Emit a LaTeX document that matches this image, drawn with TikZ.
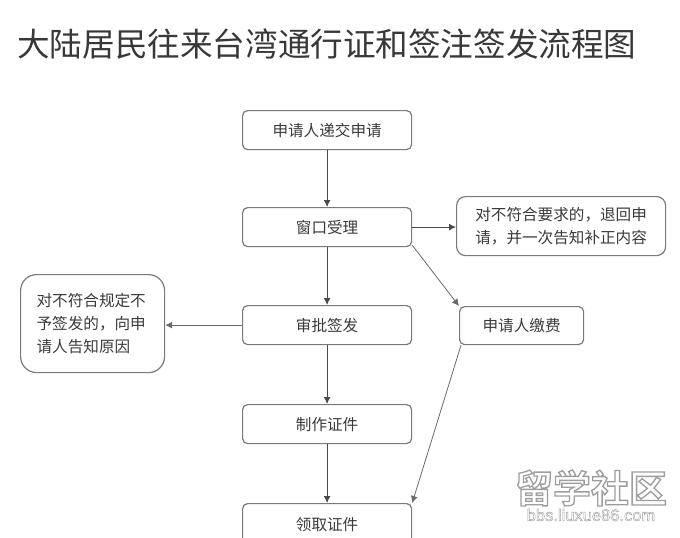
\documentclass[tikz,border=0pt]{standalone}
\usepackage{fontspec}
\setmainfont{Noto Sans CJK SC}
\font\wmcjk="Noto Sans CJK SC Bold:embolden=3.5" at 38pt
\font\wmlat="Liberation Sans:embolden=2.5" at 16.5pt
\usetikzlibrary{arrows.meta}
\definecolor{edgec}{HTML}{7A7A7A}
\definecolor{textc}{HTML}{3A3A3A}
\definecolor{linec}{HTML}{4A4A4A}
\definecolor{thinc}{HTML}{6A6A6A}
\newcommand{\wmstroke}{\special{pdf:code 0.62 0.62 0.62 RG}}
\tikzset{
  x=1pt,y=-1pt,
  boxbase/.style={draw=edgec,line width=1.2pt,fill=white,text=textc,inner sep=0pt,anchor=north west,align=center,font=\fontsize{15.6}{23}\selectfont},
  flow/.style={boxbase,rounded corners=5pt},
  note/.style={boxbase,rounded corners=9pt},
  bignote/.style={boxbase,rounded corners=16pt,align=left},
  conn/.style={draw=linec,line width=1pt,-{Latex[length=7pt,width=7pt]}},
  thin conn/.style={draw=thinc,line width=.8pt,-{Latex[length=7pt,width=7pt]}},
  wmtext/.style={text=white,inner sep=0pt}
}
\begin{document}
\begin{tikzpicture}
\useasboundingbox (0,0) rectangle (680,538);
\clip (0,0) rectangle (680,538);
\fill[white] (0,0) rectangle (680,538);
\node[text=black!78,inner sep=0pt,anchor=west,font=\fontsize{32.6}{36}\selectfont] (title) at (17,44) {大陆居民往来台湾通行证和签注签发流程图};
\node[flow,minimum width=169pt,minimum height=39pt] (a) at (242,110) {申请人递交申请};
\node[flow,minimum width=169pt,minimum height=39pt] (b) at (242,207) {窗口受理};
\node[flow,minimum width=169pt,minimum height=39pt] (c) at (242,305) {审批签发};
\node[flow,minimum width=169pt,minimum height=39pt] (d) at (242,404) {制作证件};
\node[flow,minimum width=169pt,minimum height=42pt] (e) at (242,503) {领取证件};
\node[note,minimum width=209pt,minimum height=59pt] (r) at (456,196) {对不符合要求的，退回申\\请，并一次告知补正内容};
\node[flow,minimum width=124pt,minimum height=38pt] (p) at (459,306) {申请人缴费};
\node[bignote,minimum height=98pt,text width=112pt,inner xsep=16pt] (l) at (20,274) {对不符合规定不\\予签发的，向申\\请人告知原因};
\draw[conn] (a.south) -- (b.north);
\draw[conn] (b.south) -- (c.north);
\draw[conn] (c.south) -- (d.north);
\draw[conn] (d.south) -- (e.north);
\draw[conn] (b.east) -- (r.west |- b.east);
\coordinate (bs) at ([yshift=2pt]b.south east);
\draw[thin conn] (bs) -- (p.north west);
\draw[thin conn] (c.west) -- (l.east |- c.west);
\coordinate (ps) at ([xshift=2pt]p.south west);
\draw[thin conn] (ps) -- (e.north east);
\node[wmtext,font=\wmcjk] (wm) at (591,488) {\wmstroke 留学社区};
\node[wmtext,font=\wmlat] (wmu) at (591,515) {\wmstroke bbs.liuxue86.com};
\end{tikzpicture}
\end{document}
